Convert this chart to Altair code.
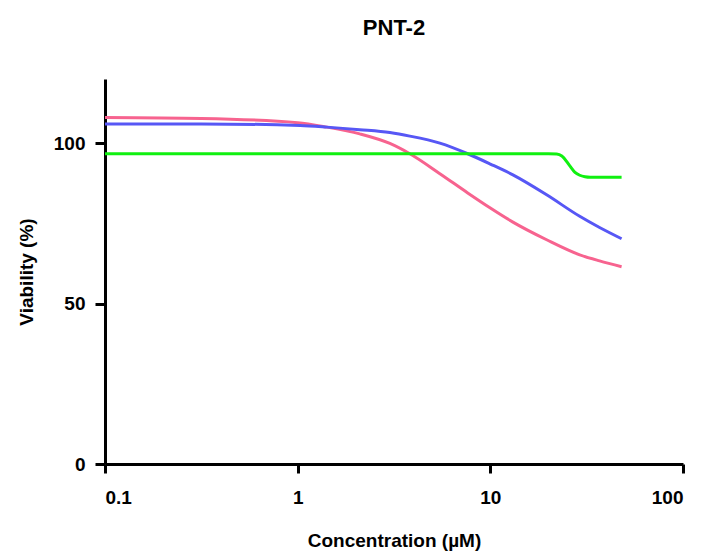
import altair as alt
import pandas as pd

# Concentrations (µM) and viability (%)
pink_conc = [0.1, 0.316, 1.0, 1.42, 2.10, 3.01, 3.82, 5.47, 7.63, 10.0, 13.1, 19.6, 29.1, 36.9, 48]
pink_val = [108.0, 107.7, 106.4, 105.0, 102.9, 99.9, 96.7, 90.5, 84.5, 79.8, 75.4, 69.9, 65.2, 63.3, 61.5]

blue_conc = [0.1, 0.316, 1.03, 1.42, 2.10, 3.01, 3.82, 5.47, 7.63, 10.0, 13.1, 19.6, 29.1, 36.9, 48]
blue_val = [106.0, 106.0, 105.5, 105.0, 104.2, 103.3, 102.2, 100.0, 96.7, 93.5, 90.1, 83.9, 77.2, 73.7, 70.2]

green_conc = [0.1, 1.0, 10.0, 20.0, 22.1, 23.5, 25.8, 27.5, 29.1, 31.0, 33.0, 40.0, 48]
green_val = [96.7, 96.7, 96.7, 96.7, 96.6, 96.0, 93.0, 90.9, 90.0, 89.55, 89.4, 89.4, 89.4]

series_names = ["A", "B", "C"]
series_colors = ["#F7638F", "#5757F5", "#10F010"]

rows = []
for name, cs, vs in [("A", pink_conc, pink_val), ("B", blue_conc, blue_val), ("C", green_conc, green_val)]:
    for c, v in zip(cs, vs):
        rows.append({"series": name, "conc": c, "val": v})
df = pd.DataFrame(rows)

x_ticks = [0.1, 1, 10, 100]
y_ticks = [0, 50, 100]

FONT = "Liberation Sans"

chart = alt.Chart(df).mark_line(strokeWidth=3, interpolate="monotone").encode(
    x=alt.X("conc:Q",
            scale=alt.Scale(type="log", domain=[0.1, 100], nice=False),
            axis=alt.Axis(values=x_ticks, format="~g", title="Concentration (µM)",
                          grid=False, domainWidth=3, tickWidth=3, tickSize=9,
                          domainColor="black", tickColor="black",
                          labelFont=FONT, labelFontSize=19, labelFontWeight="bold",
                          labelColor="black", labelPadding=15,
                          titleFont=FONT, titleFontSize=19, titleFontWeight="bold",
                          titleColor="black", titlePadding=24)),
    y=alt.Y("val:Q",
            scale=alt.Scale(domain=[0, 120], nice=False),
            axis=alt.Axis(values=y_ticks, title="Viability (%)",
                          grid=False, domainWidth=3, tickWidth=3, tickSize=10,
                          domainColor="black", tickColor="black",
                          labelFont=FONT, labelFontSize=19, labelFontWeight="bold",
                          labelColor="black", labelPadding=10,
                          titleFont=FONT, titleFontSize=19, titleFontWeight="bold",
                          titleColor="black", titlePadding=17)),
    color=alt.Color("series:N", scale=alt.Scale(domain=series_names, range=series_colors), legend=None),
    detail="series:N",
).properties(
    width=578,
    height=385,
    title=alt.Title("PNT-2", font=FONT, fontSize=22, fontWeight="bold", color="black",
                    anchor="middle", offset=39),
    autosize=alt.AutoSizeParams(type="none"),
    padding={"left": 97, "top": 71, "right": 6, "bottom": 92},
).configure_view(stroke=None)

chart.save("out.html", embed_options={"renderer": "svg", "actions": False})
